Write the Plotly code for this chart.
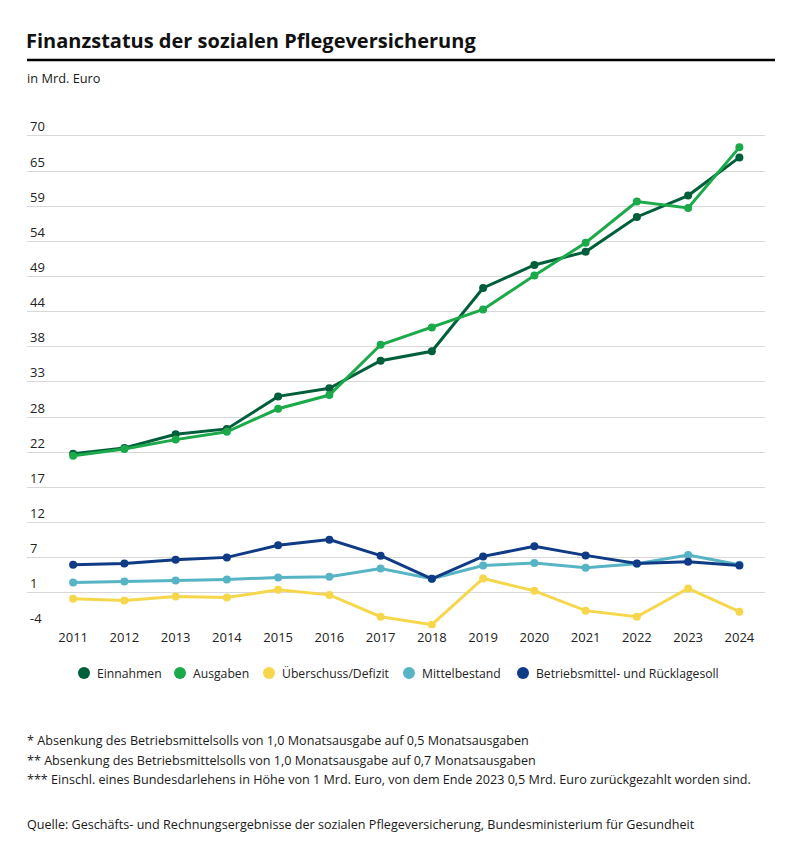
import plotly.graph_objects as go

years = ["2011", "2012", "2013", "2014", "2015", "2016", "2017",
         "2018", "2019", "2020", "2021", "2022", "2023", "2024"]

einnahmen = [22.21, 23.08, 25.14, 25.94, 30.83, 32.04, 36.2,
             37.61, 47.13, 50.6, 52.57, 57.81, 61.03, 66.77]
ausgaben = [21.91, 22.92, 24.33, 25.5, 28.97, 31.03, 38.6,
            41.2, 43.91, 49.0, 53.93, 60.12, 59.17, 68.28]
ueberschuss = [0.38, 0.12, 0.73, 0.58, 1.74, 0.98, -2.3,
               -3.5, 3.45, 1.59, -1.39, -2.3, 1.94, -1.54]
mittelbestand = [2.85, 3.0, 3.15, 3.3, 3.6, 3.7, 4.96,
                 3.4, 5.41, 5.77, 5.06, 5.67, 6.98, 5.5]
betriebsmittel = [5.52, 5.71, 6.27, 6.62, 8.43, 9.29, 6.88,
                  3.4, 6.77, 8.28, 6.92, 5.71, 5.97, 5.41]

y_min, y_max, n_int = -4, 70, 14
tick_vals = [y_min + i * (y_max - y_min) / n_int for i in range(n_int + 1)]
tick_text = [str(round(v)) for v in tick_vals]

series_names = ["Einnahmen", "Ausgaben", "Überschuss/Defizit",
                "Mittelbestand", "Betriebsmittel- und Rücklagesoll"]
series_values = [einnahmen, ausgaben, ueberschuss, mittelbestand, betriebsmittel]
series_colors = ["#005f3b", "#1ba94a", "#f6d74c", "#56b4c4", "#0f3a85"]

draw_order = [3, 4, 2, 0, 1]

FONT = "Open Sans"
fig = go.Figure()
for i in draw_order:
    col = series_colors[i]
    fig.add_trace(go.Scatter(
        x=years, y=series_values[i], name=series_names[i], mode="lines+markers",
        line=dict(color=col, width=3),
        marker=dict(color=col, size=8),
        showlegend=False, hoverinfo="x+y+name"))

W, H = 800, 858
y_top_px, y_bot_px = 136, 628
px_per_unit = (y_bot_px - y_top_px) / (y_max - y_min)
y_range_top = 74.5
L, R = 27, 35
B = H - y_bot_px
T = y_bot_px - (y_range_top - y_min) * px_per_unit
pw, ph = W - L - R, H - T - B

def px(x):
    return (x - L) / pw

def py(y):
    return (H - B - y) / ph

fig.update_layout(
    width=W, height=H,
    margin=dict(l=L, r=R, t=T, b=B, autoexpand=False),
    paper_bgcolor="white", plot_bgcolor="white",
    font=dict(family=FONT, size=12, color="#1a1a1a"),
    title=dict(text="<b>Finanzstatus der sozialen Pflegeversicherung</b>",
               x=26 / W, xanchor="left", xref="container",
               y=1 - 41 / H, yanchor="middle", yref="container",
               font=dict(family=FONT, size=20, color="#111111")),
    xaxis=dict(type="category", range=[-0.9, 13.5], showgrid=False,
               showline=False, ticks="", tickfont=dict(size=13, color="#222")),
    yaxis=dict(range=[y_min, y_range_top], tickvals=tick_vals, ticktext=tick_text,
               ticklabelposition="inside top", ticklabelstandoff=0,
               showgrid=True, gridcolor="#d8d8d8", gridwidth=1, zeroline=False,
               showline=False, ticks="", tickfont=dict(size=13, color="#222")),
    showlegend=False,
)

# header rule
fig.add_shape(type="line", xref="paper", yref="paper",
              x0=px(27), x1=px(775), y0=py(60), y1=py(60),
              line=dict(color="#000000", width=2.5))

# legend (dots + labels), laid out like the original
legend_dot_px = [84, 180, 269, 409, 523]
legend_row_px = 673
for name, col, xd in zip(series_names, series_colors, legend_dot_px):
    fig.add_shape(type="circle", xref="paper", yref="paper",
                  xsizemode="pixel", ysizemode="pixel",
                  xanchor=px(xd), yanchor=py(legend_row_px),
                  x0=-6, x1=6, y0=-6, y1=6,
                  fillcolor=col, line=dict(width=0))
    fig.add_annotation(text=name, xref="paper", yref="paper",
                       x=px(xd + 11), y=py(legend_row_px),
                       xanchor="left", yanchor="middle", showarrow=False,
                       font=dict(family=FONT, size=12.2, color="#222"))

notes = [
    (78, "in Mrd. Euro", 12.8),
    (740, "* Absenkung des Betriebsmittelsolls von 1,0 Monatsausgabe auf 0,5 Monatsausgaben", 12.6),
    (760, "** Absenkung des Betriebsmittelsolls von 1,0 Monatsausgabe auf 0,7 Monatsausgaben", 12.6),
    (779, "*** Einschl. eines Bundesdarlehens in Höhe von 1 Mrd. Euro, von dem Ende 2023 0,5 Mrd. Euro zurückgezahlt worden sind.", 12.6),
    (824, "Quelle: Geschäfts- und Rechnungsergebnisse der sozialen Pflegeversicherung, Bundesministerium für Gesundheit", 12.6),
]
for y, txt, sz in notes:
    fig.add_annotation(text=txt, xref="paper", yref="paper", x=px(25), y=py(y),
                       xanchor="left", yanchor="middle", showarrow=False,
                       font=dict(family=FONT, size=sz, color="#1a1a1a"))

fig.write_html("out.html",
               config={"displayModeBar": False},
               post_script="document.body.style.margin='0px';document.body.style.overflow='hidden';")
